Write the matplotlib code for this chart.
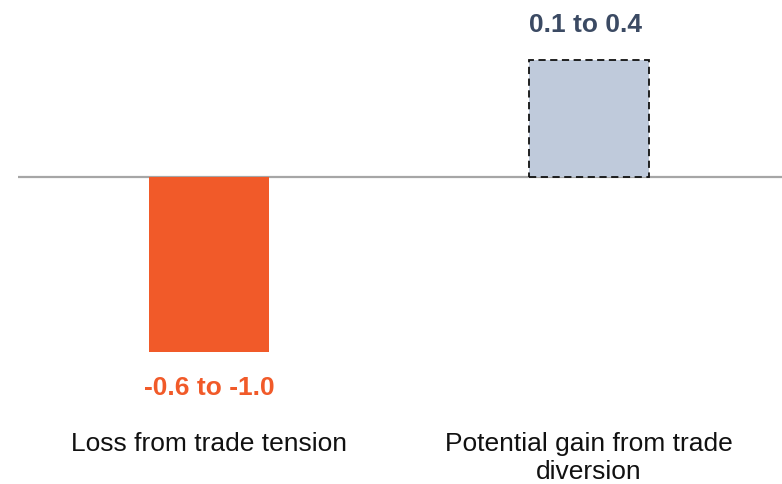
import matplotlib
matplotlib.use("Agg")
import matplotlib.pyplot as plt

categories = ["Loss from trade tension", "Potential gain from trade\ndiversion"]
values = [-0.6, 0.4]
value_labels = ["-0.6 to -1.0", "0.1 to 0.4"]
bar_colors = ["#F15A29", "#BFCADB"]
label_colors = ["#F15A29", "#3B4A63"]

plt.rcParams["font.family"] = ["Liberation Sans", "DejaVu Sans"]

W, H = 782, 485
fig = plt.figure(figsize=(W / 100, H / 100), dpi=100)
ax = fig.add_axes([18 / W, 0, 1 - 18 / W, 1])
ax.set_xlim(-0.5026, 1.5074)
ax.set_ylim(-1.053, 0.61)
ax.axis("off")

x = list(range(len(categories)))
bars = ax.bar(x, values, width=0.315, color=bar_colors, zorder=2)
# dashed outline for the potential gain
bars[1].set_edgecolor("#111111")
bars[1].set_linewidth(1.3)
bars[1].set_linestyle((0, (4, 2.5)))

ax.axhline(0, color="#A6A6A6", linewidth=1.6, zorder=1)

# value range labels beyond the end of each bar
for xi, v, lab, c in zip(x, values, value_labels, label_colors):
    off = (-2.5, 26) if v > 0 else (0, -25)
    ax.annotate(lab, (xi, v), xytext=off, textcoords="offset points",
                ha="center", va="center", fontsize=19, fontweight="bold", color=c)

# category names under the chart
for xi, cat in zip(x, categories):
    ax.text(xi, -0.872, cat, ha="center", va="top", multialignment="center",
            fontsize=19, color="#111111", linespacing=1.2)

fig.savefig("out.png", dpi=100)
